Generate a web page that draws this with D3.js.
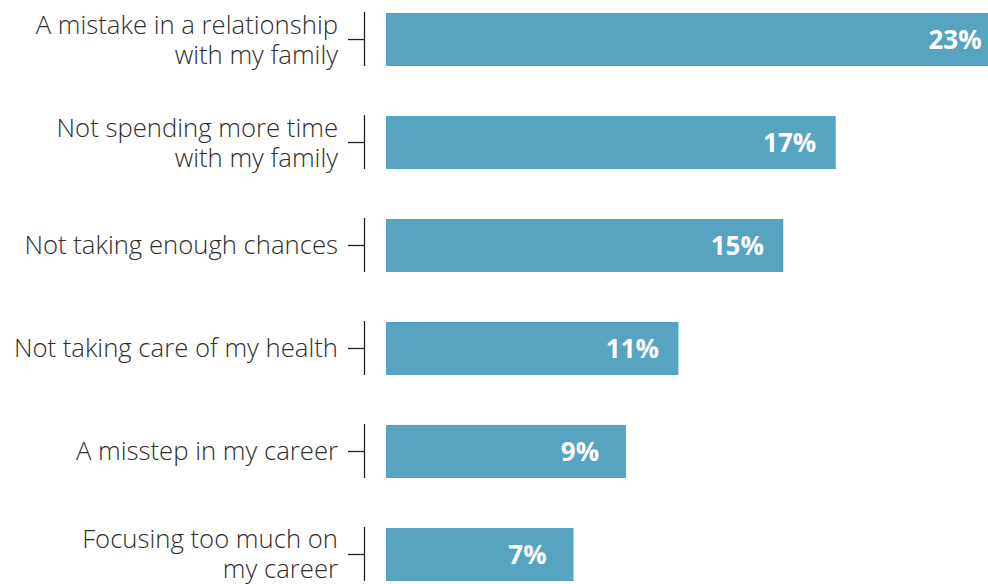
<!DOCTYPE html>
<html>
<head>
<meta charset="utf-8">
<script src="https://cdn.jsdelivr.net/npm/d3@7"></script>
<style>
  html, body { margin: 0; padding: 0; background: #ffffff; }
  svg { display: block; }
</style>
</head>
<body>
<div id="chart"></div>
<script>
"use strict";

// Data
const categories = [
    ["A mistake in a relationship", "with my family"],
    ["Not spending more time", "with my family"],
    ["Not taking enough chances"],
    ["Not taking care of my health"],
    ["A misstep in my career"],
    ["Focusing too much on", "my career"]
];
const values = [23, 17, 15, 11, 9, 7];
const value_labels = ["23%", "17%", "15%", "11%", "9%", "7%"];

const width = 988;
const height = 584;

const BAR_COLOR = "#57a3c2";
const TEXT_COLOR = "#2e2e2e";
const FONT = "'Open Sans', 'Noto Sans', sans-serif";

const svg = d3.select("#chart").append("svg")
    .attr("width", width)
    .attr("height", height);

const ids = d3.range(categories.length);

// band scale for rows
const y_scale = d3.scaleBand()
    .domain(ids)
    .range([13, 581])
    .paddingInner(0.485)
    .paddingOuter(0);

// linear scale for bar length; the longest bar runs off the right edge
const BAR_START_GAP = 4;
const x_scale = d3.scaleLinear()
    .domain([0, 23])
    .range([390, 993]);

// axis: short vertical segment per row with a tick pointing left
const axis = svg.append("g").attr("class", "y_axis");

axis.selectAll(".seg")
    .data(ids)
    .enter()
    .append("line")
    .attr("x1", 364.5).attr("x2", 364.5)
    .attr("y1", d => y_scale(d) - 1)
    .attr("y2", d => y_scale(d) + y_scale.bandwidth())
    .attr("stroke", "#222")
    .attr("stroke-width", 1.3);

axis.selectAll(".tick")
    .data(ids)
    .enter()
    .append("line")
    .attr("x1", 348).attr("x2", 365)
    .attr("y1", d => y_scale(d) + y_scale.bandwidth() / 2)
    .attr("y2", d => y_scale(d) + y_scale.bandwidth() / 2)
    .attr("stroke", "#222")
    .attr("stroke-width", 1.3);

// category labels
const LINE_H = 30;
const labels = svg.append("g").selectAll("text")
    .data(ids)
    .enter()
    .append("text")
    .attr("text-anchor", "end")
    .attr("font-family", FONT)
    .attr("font-weight", 300)
    .attr("font-size", "25.7px")
    .attr("fill", TEXT_COLOR);

labels.each(function (d) {
    const lines = categories[d];
    const cy = y_scale(d) + y_scale.bandwidth() / 2;
    const y0 = cy - (lines.length - 1) * LINE_H / 2;
    d3.select(this).selectAll("tspan")
        .data(lines)
        .enter()
        .append("tspan")
        .attr("x", 338)
        .attr("y", (t, i) => y0 + i * LINE_H)
        .attr("dy", "0.35em")
        .text(t => t);
});

// bars
svg.append("g").selectAll("rect")
    .data(ids)
    .enter()
    .append("rect")
    .attr("x", x_scale(0) - BAR_START_GAP)
    .attr("y", d => y_scale(d))
    .attr("width", d => x_scale(values[d]) - x_scale(0) + BAR_START_GAP)
    .attr("height", y_scale.bandwidth())
    .attr("fill", BAR_COLOR);

// value labels inside bars; a bar cut by the edge gets its label near the edge
function label_x(d) {
    const end = x_scale(values[d]);
    return end > width ? width - 33 : end - 46;
}

svg.append("g").selectAll("text")
    .data(ids)
    .enter()
    .append("text")
    .attr("text-anchor", "middle")
    .attr("x", label_x)
    .attr("y", d => y_scale(d) + y_scale.bandwidth() / 2)
    .attr("dy", "0.36em")
    .attr("font-family", FONT)
    .attr("font-weight", "bold")
    .attr("font-size", "26px")
    .attr("fill", "#ffffff")
    .text(d => value_labels[d]);
</script>
</body>
</html>
